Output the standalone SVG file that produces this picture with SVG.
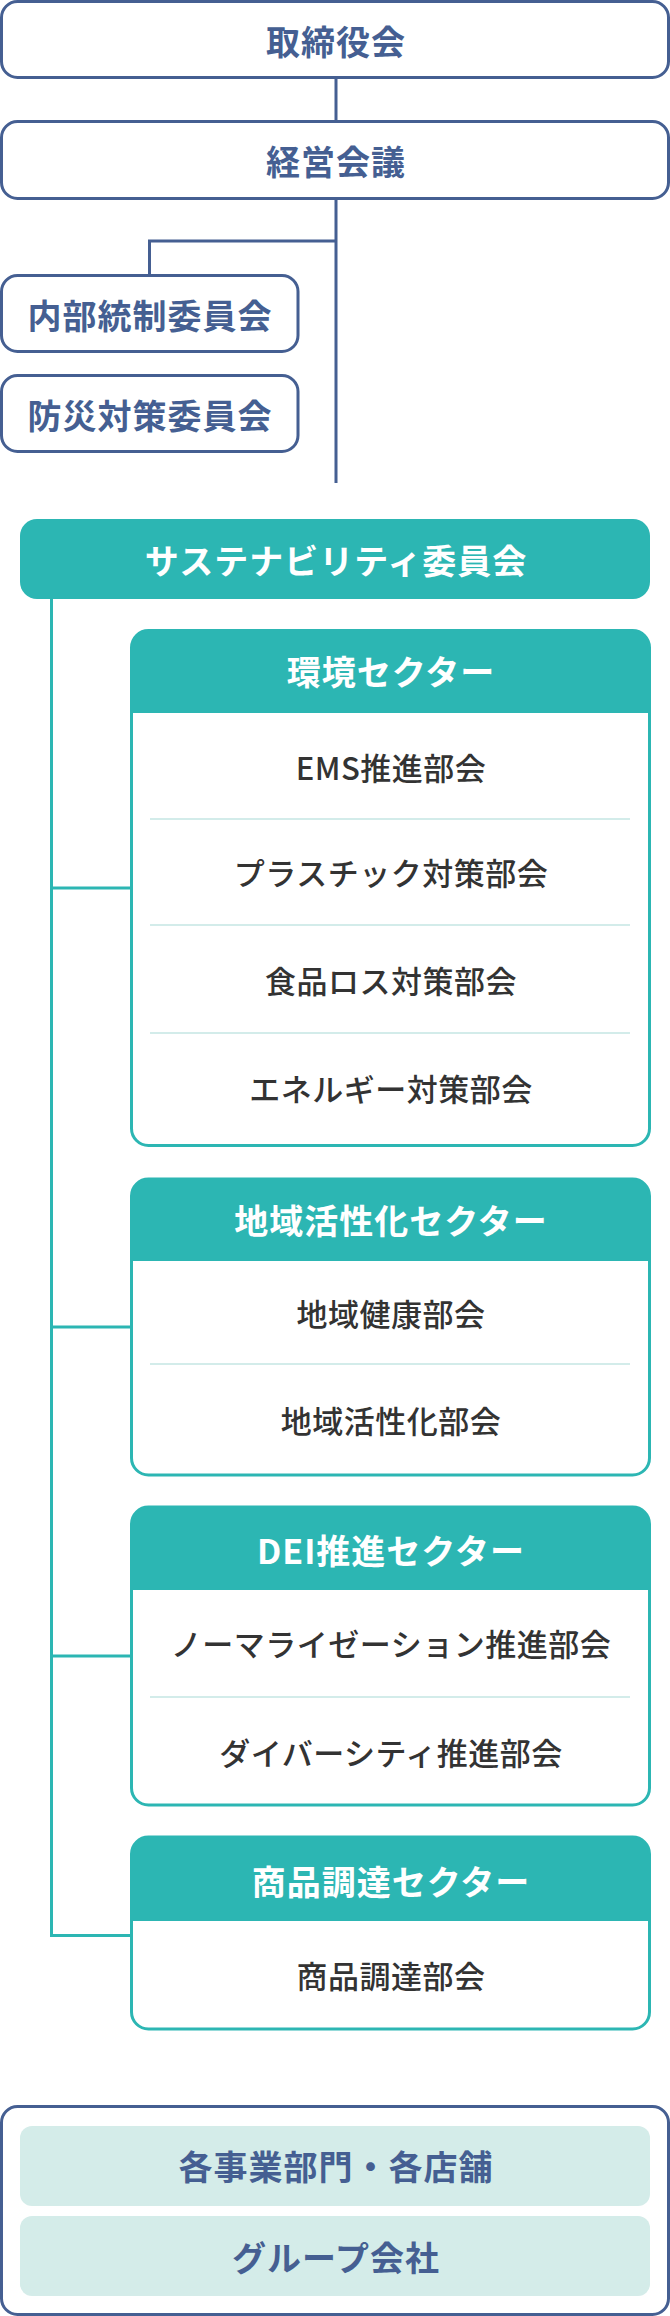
<svg xmlns="http://www.w3.org/2000/svg" width="670" height="2316" viewBox="0 0 670 2316">
<style>
.nbox{fill:#fff;stroke:#455f92;stroke-width:3}
.ntxt{font-family:"Noto Sans CJK JP","Noto Sans",sans-serif;font-weight:700;font-size:34px;fill:#455f92;text-anchor:middle;dominant-baseline:central;letter-spacing:1px}
.tfill{fill:#2cb6b3}
.tbox{fill:none;stroke:#2cb6b3;stroke-width:3}
.ttxt{font-family:"Noto Sans CJK JP","Noto Sans",sans-serif;font-weight:700;font-size:34px;fill:#fff;text-anchor:middle;dominant-baseline:central;letter-spacing:1px}
.itxt{font-family:"Noto Sans CJK JP","Noto Sans",sans-serif;font-weight:500;font-size:31px;fill:#333;text-anchor:middle;dominant-baseline:central;letter-spacing:0.5px}
.div{stroke:#d3ecea;stroke-width:2}
.nline{fill:none;stroke:#455f92;stroke-width:3}
.tline{fill:none;stroke:#2cb6b3;stroke-width:3}
.inner{fill:#d4ece9}
</style>
<g id="connectors">
<path class="nline" d="M336 77V122"/>
<path class="nline" d="M336 198V483"/>
<path class="nline" d="M336 241H149.5V276"/>
<path class="tline" d="M51.5 599V1935.5H132"/>
<path class="tline" d="M51.5 888H132"/>
<path class="tline" d="M51.5 1327H132"/>
<path class="tline" d="M51.5 1656H132"/>
</g>
<g id="board">
<rect class="nbox" x="1.5" y="1.5" width="667" height="76" rx="16"/>
<text class="ntxt" x="336" y="40">取締役会</text>
</g>
<g id="management">
<rect class="nbox" x="1.5" y="121.5" width="667" height="77" rx="16"/>
<text class="ntxt" x="336" y="160">経営会議</text>
</g>
<g id="internal-control">
<rect class="nbox" x="1.5" y="275.5" width="296.5" height="76" rx="16"/>
<text class="ntxt" x="150" y="314">内部統制委員会</text>
</g>
<g id="disaster">
<rect class="nbox" x="1.5" y="375.5" width="296.5" height="76" rx="16"/>
<text class="ntxt" x="150" y="414">防災対策委員会</text>
</g>
<g id="sustainability">
<rect class="tfill" x="20" y="519" width="630" height="80" rx="17"/>
<text class="ttxt" x="336" y="559">サステナビリティ委員会</text>
</g>
<g id="env">
<path class="tfill" d="M131.5 713V647.5A17 17 0 0 1 148.5 630.5H632.5A17 17 0 0 1 649.5 647.5V713Z"/>
<rect class="tbox" x="131.5" y="630.5" width="518" height="515" rx="17"/>
<text class="ttxt" x="391" y="670">環境セクター</text>
<text class="itxt" x="391" y="766">EMS推進部会</text>
<line class="div" x1="150" y1="819" x2="630" y2="819"/>
<text class="itxt" x="391" y="871">プラスチック対策部会</text>
<line class="div" x1="150" y1="925" x2="630" y2="925"/>
<text class="itxt" x="391" y="979">食品ロス対策部会</text>
<line class="div" x1="150" y1="1033" x2="630" y2="1033"/>
<text class="itxt" x="391" y="1087">エネルギー対策部会</text>
</g>
<g id="community">
<path class="tfill" d="M131.5 1261V1196A17 17 0 0 1 148.5 1179H632.5A17 17 0 0 1 649.5 1196V1261Z"/>
<rect class="tbox" x="131.5" y="1179" width="518" height="296" rx="17"/>
<text class="ttxt" x="391" y="1219">地域活性化セクター</text>
<text class="itxt" x="391" y="1312">地域健康部会</text>
<line class="div" x1="150" y1="1364" x2="630" y2="1364"/>
<text class="itxt" x="391" y="1419">地域活性化部会</text>
</g>
<g id="dei">
<path class="tfill" d="M131.5 1590V1524A17 17 0 0 1 148.5 1507H632.5A17 17 0 0 1 649.5 1524V1590Z"/>
<rect class="tbox" x="131.5" y="1507" width="518" height="298" rx="17"/>
<text class="ttxt" x="391" y="1549">DEI推進セクター</text>
<text class="itxt" x="391" y="1642">ノーマライゼーション推進部会</text>
<line class="div" x1="150" y1="1697" x2="630" y2="1697"/>
<text class="itxt" x="391" y="1751">ダイバーシティ推進部会</text>
</g>
<g id="procurement">
<path class="tfill" d="M131.5 1921V1854A17 17 0 0 1 148.5 1837H632.5A17 17 0 0 1 649.5 1854V1921Z"/>
<rect class="tbox" x="131.5" y="1837" width="518" height="192" rx="17"/>
<text class="ttxt" x="391" y="1880">商品調達セクター</text>
<text class="itxt" x="391" y="1974">商品調達部会</text>
</g>
<g id="operations">
<rect class="nbox" x="1.5" y="2106.5" width="667" height="208" rx="16"/>
<rect class="inner" x="20" y="2126" width="630" height="80" rx="12"/>
<text class="ntxt" x="336" y="2165">各事業部門・各店舗</text>
<rect class="inner" x="20" y="2216" width="630" height="80" rx="12"/>
<text class="ntxt" x="336" y="2256">グループ会社</text>
</g>
</svg>
